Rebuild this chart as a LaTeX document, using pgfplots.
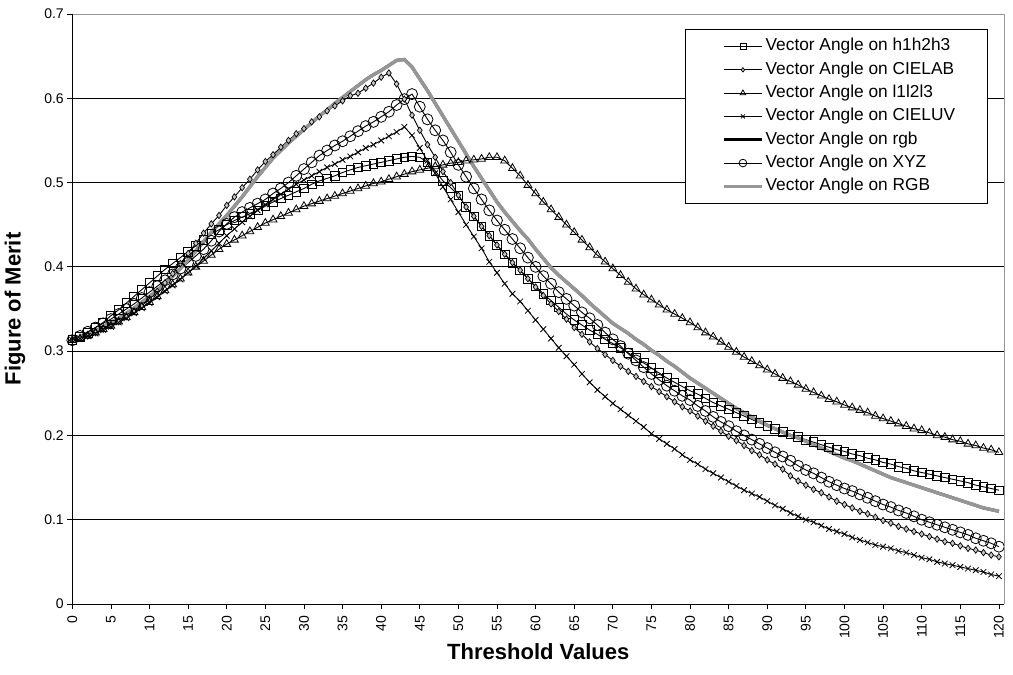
\documentclass[border=0pt]{standalone}
\usepackage{fontspec}
\setmainfont{Liberation Sans}
\usepackage{pgfplots}
\usepackage{pgfplotstable}
\pgfplotsset{compat=1.18}
\definecolor{rgbgray}{RGB}{150,150,150}
\newcommand{\tickfont}{\fontsize{14bp}{16bp}\selectfont}
\newcommand{\legfont}{\fontsize{17.3bp}{20bp}\selectfont}
\newcommand{\labfont}{\fontsize{22bp}{25bp}\selectfont\bfseries}
\pgfplotstableread{
x A B C D F G
0 .313 .313 .313 .313 .313 .313
1 .317 .315 .315 .315 .318 .316
2 .322 .318 .318 .318 .323 .320
3 .328 .322 .322 .321 .328 .324
4 .334 .326 .326 .325 .333 .329
5 .342 .330 .330 .329 .338 .334
6 .349 .335 .335 .334 .344 .339
7 .357 .341 .340 .339 .350 .345
8 .365 .347 .346 .345 .356 .351
9 .373 .354 .352 .351 .363 .358
10 .381 .362 .358 .357 .370 .365
11 .389 .371 .365 .364 .377 .372
12 .397 .381 .372 .371 .384 .380
13 .404 .392 .379 .378 .391 .389
14 .411 .404 .386 .385 .398 .398
15 .418 .416 .393 .393 .405 .408
16 .425 .428 .400 .401 .413 .419
17 .432 .440 .407 .410 .421 .430
18 .439 .451 .414 .419 .431 .441
19 .444 .461 .421 .428 .442 .451
20 .450 .473 .427 .437 .451 .461
21 .455 .483 .432 .445 .459 .472
22 .459 .494 .437 .453 .465 .483
23 .463 .504 .442 .460 .470 .495
24 .467 .515 .447 .467 .475 .507
25 .472 .525 .452 .474 .480 .518
26 .477 .533 .456 .480 .487 .529
27 .481 .542 .460 .486 .493 .538
28 .485 .550 .464 .492 .500 .547
29 .489 .558 .468 .498 .508 .555
30 .493 .564 .472 .503 .516 .563
31 .498 .572 .475 .508 .524 .571
32 .502 .578 .478 .513 .532 .579
33 .505 .585 .481 .518 .538 .586
34 .508 .591 .484 .522 .544 .594
35 .512 .597 .487 .527 .549 .601
36 .515 .603 .490 .531 .555 .608
37 .518 .606 .493 .536 .561 .615
38 .520 .612 .496 .541 .567 .622
39 .522 .618 .499 .545 .572 .628
40 .524 .625 .501 .550 .578 .633
41 .526 .630 .504 .555 .584 .639
42 .528 .617 .507 .560 .592 .645
43 .530 .599 .510 .566 .599 .646
44 .531 .580 .513 .556 .605 .637
45 .530 .562 .515 .541 .590 .623
46 .524 .545 .517 .526 .575 .609
47 .514 .530 .519 .511 .562 .594
48 .502 .513 .521 .495 .550 .579
49 .494 .500 .523 .480 .536 .564
50 .485 .485 .524 .465 .521 .549
51 .471 .471 .526 .450 .507 .534
52 .460 .460 .527 .436 .493 .519
53 .448 .448 .528 .422 .480 .505
54 .437 .437 .530 .406 .467 .491
55 .426 .426 .530 .393 .455 .477
56 .415 .415 .526 .380 .444 .465
57 .405 .405 .517 .368 .433 .454
58 .396 .396 .508 .359 .422 .443
59 .386 .386 .497 .348 .411 .433
60 .377 .376 .487 .337 .400 .421
61 .368 .366 .477 .326 .389 .410
62 .360 .356 .468 .315 .380 .399
63 .352 .347 .459 .304 .370 .390
64 .344 .338 .450 .294 .362 .382
65 .337 .328 .441 .284 .354 .374
66 .331 .320 .432 .273 .346 .366
67 .325 .311 .423 .263 .339 .357
68 .320 .303 .414 .254 .331 .349
69 .314 .296 .406 .246 .322 .341
70 .309 .289 .398 .238 .314 .333
71 .304 .282 .390 .231 .306 .327
72 .298 .276 .382 .224 .297 .321
73 .292 .270 .374 .217 .289 .314
74 .286 .264 .367 .210 .281 .308
75 .280 .258 .361 .202 .273 .301
76 .274 .252 .355 .196 .266 .295
77 .268 .246 .349 .190 .259 .288
78 .263 .240 .344 .184 .253 .282
79 .258 .234 .339 .177 .247 .275
80 .253 .229 .334 .171 .242 .268
81 .249 .223 .328 .166 .235 .262
82 .244 .217 .322 .160 .229 .256
83 .239 .211 .317 .155 .222 .250
84 .235 .205 .311 .150 .216 .244
85 .231 .199 .305 .145 .211 .238
86 .227 .194 .299 .140 .205 .232
87 .223 .188 .293 .135 .200 .227
88 .219 .182 .288 .131 .195 .222
89 .215 .177 .283 .127 .190 .217
90 .211 .171 .278 .122 .185 .212
91 .208 .166 .273 .117 .180 .208
92 .204 .160 .268 .113 .175 .204
93 .201 .152 .264 .108 .170 .200
94 .198 .146 .260 .104 .164 .197
95 .195 .141 .255 .100 .159 .193
96 .192 .136 .251 .097 .155 .189
97 .189 .132 .247 .093 .150 .185
98 .186 .127 .243 .089 .145 .181
99 .183 .122 .240 .086 .141 .177
100 .181 .118 .236 .083 .137 .173
101 .178 .114 .233 .079 .134 .170
102 .176 .110 .230 .076 .130 .166
103 .173 .107 .227 .073 .126 .162
104 .171 .103 .223 .070 .122 .158
105 .168 .099 .220 .068 .118 .154
106 .166 .096 .217 .066 .115 .150
107 .163 .092 .214 .063 .111 .147
108 .161 .089 .211 .061 .108 .144
109 .158 .086 .208 .058 .104 .141
110 .156 .083 .206 .055 .100 .138
111 .154 .080 .203 .053 .097 .135
112 .152 .077 .200 .050 .094 .132
113 .150 .074 .198 .048 .091 .129
114 .148 .072 .195 .046 .088 .126
115 .146 .069 .193 .044 .085 .123
116 .144 .066 .190 .042 .082 .120
117 .141 .064 .188 .040 .078 .117
118 .139 .061 .185 .038 .075 .114
119 .137 .058 .183 .035 .072 .112
120 .135 .056 .180 .033 .068 .110
}\data

\begin{document}
\begin{tikzpicture}
\begin{axis}[
  at={(0,0)}, anchor=south west,
  scale only axis, width=932bp, height=590bp,
  xmin=0, xmax=120.7, ymin=0, ymax=0.7,
  xtick={0,5,...,120},
  ytick={0,0.1,0.2,0.3,0.4,0.5,0.6,0.7},
  /pgf/number format/assume math mode=true,
  yticklabel style={font=\tickfont},
  xticklabel style={font=\tickfont, rotate=90, anchor=east, xshift=-3bp},
  tick align=outside, major tick length=5bp,
  xtick pos=bottom, ytick pos=left,
  tick style={black, line width=0.8bp},
  ymajorgrids, grid style={black, line width=0.8bp},
  axis line style={draw=none},
  xlabel={Threshold Values}, ylabel={Figure of Merit},
  xlabel style={at={(axis description cs:0.5,-0.0814)}, anchor=center, font=\labfont},
  ylabel style={at={(axis description cs:-0.0615,0.5)}, anchor=center, font=\labfont},
  legend style={at={(rel axis cs:0.9825,0.9746)}, anchor=north east, draw=black, line width=0.8bp,
    font=\legfont, inner xsep=30.5bp, inner ysep=9bp, row sep=7bp,
    nodes={inner ysep=0bp, text height=12.5bp, text depth=3.8bp}},
  legend cell align=left,
  legend image code/.code={\path (0bp,0bp); \draw[mark repeat=2, mark phase=2, #1, every mark/.append style={scale=0.7}] plot coordinates {(6.5bp,0bp) (25.5bp,0bp) (44.5bp,0bp)};},
  after end axis/.code={
    \draw[rgbgray, line width=0.8bp] (rel axis cs:0,1) -- (rel axis cs:1,1) -- (rel axis cs:1,0);
    \draw[black, line width=0.8bp] (rel axis cs:0,1) -- (rel axis cs:0,0) -- (rel axis cs:1,0);
  },
]
\addplot[black, line width=0.9bp, mark=square, mark size=4.3bp, mark options={solid, line width=0.8bp}] table[x=x, y=A] {\data};
\addlegendentry{Vector Angle on h1h2h3}
\addplot[black, line width=0.9bp, mark=diamond*, mark size=3.2bp, mark options={solid, fill=gray!45, line width=0.7bp}] table[x=x, y=B] {\data};
\addlegendentry{Vector Angle on CIELAB}
\addplot[black, line width=0.9bp, mark=triangle, mark size=4.5bp, mark options={solid, line width=0.8bp}] table[x=x, y=C] {\data};
\addlegendentry{Vector Angle on l1l2l3}
\addplot[black, line width=0.9bp, mark=x, mark size=4bp, mark options={solid, line width=0.8bp}] table[x=x, y=D] {\data};
\addlegendentry{Vector Angle on CIELUV}
\addplot[black, line width=3bp, no marks] table[x=x, y=G] {\data};
\addlegendentry{Vector Angle on rgb}
\addplot[black, line width=0.9bp, mark=o, mark size=5.5bp, mark options={solid, line width=0.8bp}] table[x=x, y=F] {\data};
\addlegendentry{Vector Angle on XYZ}
\addplot[rgbgray, line width=3.5bp, no marks] table[x=x, y=G] {\data};
\addlegendentry{Vector Angle on RGB}
\end{axis}
\pgfresetboundingbox
\path (current axis.south west) ++(-72.3bp,-71bp) rectangle ++(1013bp,675bp);
\end{tikzpicture}
\end{document}
